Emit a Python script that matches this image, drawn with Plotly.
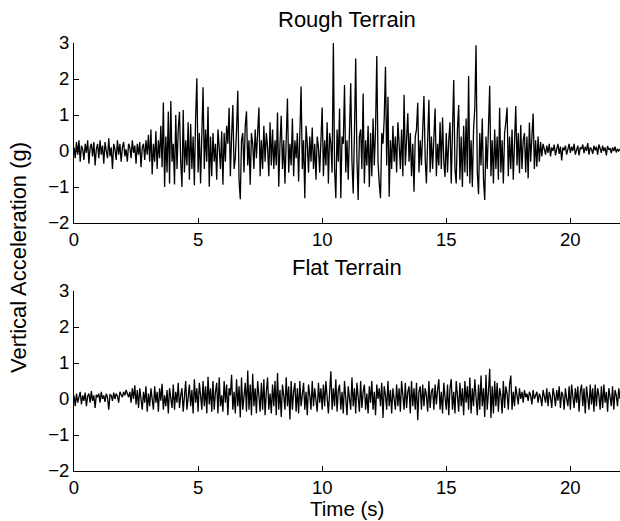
import numpy as np
import plotly.graph_objects as go

# sample interval (s) of the digitised signals
dt = 0.05

rough_g = [
    # 0-1 s
    0.1, -0.2, 0.25, -0.1, 0.3, -0.3, 0.15, 0.05, -0.25, 0.2, -0.05, 0.3, -0.35, 0.1, 0.2, -0.15, 0.25, -0.4, 0.05, 0.2,
    # 1-2 s
    -0.2, 0.3, -0.1, 0.15, -0.35, 0.25, 0.0, -0.2, 0.35, -0.15, 0.1, -0.5, 0.2, 0.05, -0.25, 0.3, -0.1, 0.2, -0.3, 0.1,
    # 2-3 s
    0.25, -0.15, 0.05, -0.3, 0.2, 0.1, -0.2, 0.3, -0.05, 0.15, -0.35, 0.2, -0.1, 0.25, -0.45, 0.1, 0.2, -0.25, 0.3, -0.1,
    # 3-4 s
    0.45, -0.3, 0.6, -0.65, 0.2, -0.3, 0.55, -0.5, 0.3, -0.2, 0.7, -0.45, 1.35, -1.0, 0.4, -0.6, 1.1, -0.9, 1.39, -0.3,
    # 4-5 s
    0.2, -0.93, 1.0, -0.5, 0.6, 1.09, -0.3, -1.0, 1.14, -0.6, 0.3, -0.4, 0.8, -0.8, 0.75, -0.5, 0.4, -0.95, 0.9, 2.02,
    # 5-6 s
    -0.6, 0.5, -0.9, 0.4, 1.77, -0.5, 0.6, -0.3, 1.23, -0.99, 0.4, -0.7, 0.5, -0.3, 0.2, -0.8, 0.6, 0.1, -0.5, 0.55,
    # 6-7 s
    -0.94, 0.5, -0.3, 0.7, 0.2, 1.2, -0.7, 0.4, 1.28, -0.5, -0.2, 0.6, 1.67, -0.8, -1.34, 0.3, 0.5, -0.6, 0.7, 1.1,
    # 7-8 s
    -0.4, 0.3, -0.94, 0.5, 0.2, -0.5, 0.6, -0.2, 0.4, 1.21, -0.7, 0.3, -0.5, 0.7, -0.3, 0.5, 0.1, -0.7, 0.8, -0.4,
    # 8-9 s
    0.6, -0.5, 0.3, -0.4, 1.07, -0.99, 0.2, 0.98, -0.5, 0.3, -0.91, 0.4, 1.46, -0.6, 0.2, -0.4, 0.9, -0.7, 0.3, -0.2,
    # 9-10 s
    0.5, -0.85, 0.6, 1.79, -0.5, 0.3, -1.31, 0.7, 0.2, -0.6, 0.4, -0.3, 0.65, -0.5, 0.2, -0.8, 0.4, 0.1, -0.6, 0.55,
    # 10-11 s
    1.21, -0.7, 0.3, -0.4, 0.8, -0.9, 0.5, 0.2, -0.6, 3.01, -0.5, -1.31, 0.6, -0.3, 1.18, -1.31, 0.4, 0.2, 1.83, -0.6,
    # 11-12 s
    0.3, -0.8, 0.4, 1.88, -0.3, -1.18, 0.5, 2.57, -0.2, -1.36, 0.4, 0.6, -0.5, 1.6, -0.9, 0.3, -0.4, 0.7, -1.0, 0.5,
    # 12-13 s
    -0.7, 0.9, -0.4, 0.6, 2.64, -0.3, -0.9, -1.31, 0.5, 0.2, 0.9, 2.34, -0.4, 1.51, -1.27, 0.3, -0.5, 0.7, -0.3, 0.4,
    # 13-14 s
    -0.6, 0.8, 0.2, -0.5, 0.6, -0.7, 1.56, -0.4, 0.3, 1.05, -0.3, 0.5, -0.7, 0.2, -1.13, 0.4, 0.6, 1.34, -0.6, 0.3,
    # 14-15 s
    -0.4, 0.7, 1.53, -0.2, -0.9, 0.3, 1.42, -0.6, 0.4, -0.5, 0.6, 1.18, -0.7, 0.2, -0.4, 0.8, -0.5, 0.93, -0.3, -0.72,
    # 15-16 s
    0.5, -0.6, 0.3, 0.8, -0.9, 0.4, 1.97, -0.5, -0.9, 0.6, 1.28, -0.8, 0.4, -1.0, 0.7, -0.6, 0.9, -0.7, 2.08, -0.9,
    # 16-17 s
    0.3, -1.0, 0.6, 1.2, 2.94, -0.6, -1.2, 0.5, -0.4, 0.9, -0.8, -1.36, 0.4, -0.5, 0.8, 1.81, -0.7, 0.3, -0.9, 0.6,
    # 17-18 s
    -0.5, 0.4, -0.8, 1.2, -0.6, 0.3, -0.9, 0.5, 0.8, 1.21, -0.7, 0.4, -0.5, 0.6, -0.8, 0.3, 1.25, -0.4, 0.5, -0.62,
    # 18-19 s
    0.72, -0.5, 0.3, 0.5, -0.6, 0.4, -0.76, 0.79, -0.3, 0.4, 1.04, -0.5, 0.3, -0.44, 0.4, -0.3, 0.25, -0.15, 0.2, 0.05,
    # 19-20 s
    -0.1, 0.15, -0.05, 0.2, -0.15, 0.1, 0.0, 0.18, -0.12, 0.05, 0.2, -0.08, 0.12, -0.26, 0.1, 0.02, 0.15, -0.1, 0.08, 0.2,
    # 20-21 s
    -0.05, 0.12, 0.0, 0.2, -0.1, 0.08, 0.15, -0.12, 0.1, 0.05, 0.18, -0.06, 0.12, 0.0, 0.22, -0.1, 0.1, 0.05, -0.08, 0.15,
    # 21-22 s
    0.02, 0.12, -0.1, 0.18, 0.05, -0.05, 0.15, 0.0, 0.1, -0.12, 0.14, 0.03, 0.08, -0.06, 0.1, 0.0, 0.12, -0.04, 0.06, 0.0, 0.05,
]

flat_g = [
    # 0-1 s
    0.1, -0.2, 0.15, -0.1, 0.05, 0.2, -0.15, 0.1, -0.05, 0.18, -0.2, 0.08, 0.15, -0.1, 0.22, -0.05, 0.1, -0.25, 0.12, 0.05,
    # 1-2 s
    0.15, -0.1, 0.2, 0.0, 0.1, -0.08, 0.15, 0.05, -0.3, 0.12, 0.1, -0.05, 0.18, 0.0, 0.15, 0.08, -0.1, 0.2, 0.12, 0.05,
    # 2-3 s
    0.2, 0.1, 0.25, 0.15, 0.05, 0.2, -0.1, 0.3, 0.0, 0.38, -0.15, 0.25, -0.25, 0.3, 0.05, -0.3, 0.2, -0.1, 0.35, -0.35,
    # 3-4 s
    0.15, -0.2, 0.3, 0.0, -0.3, 0.35, -0.1, 0.2, -0.35, 0.3, -0.05, 0.42, -0.3, 0.1, -0.2, 0.25, -0.4, 0.3, 0.05, -0.25,
    # 4-5 s
    0.4, -0.3, 0.2, -0.1, 0.45, -0.25, 0.1, 0.3, -0.35, 0.2, 0.5, -0.3, 0.0, 0.4, -0.2, 0.25, -0.4, 0.55, -0.1, 0.3,
    # 5-6 s
    -0.35, 0.45, 0.1, -0.3, 0.5, -0.2, 0.35, -0.4, 0.62, -0.15, 0.3, -0.35, 0.5, -0.3, 0.2, 0.45, -0.4, 0.6, -0.2, 0.1,
    # 6-7 s
    -0.35, 0.5, -0.1, 0.4, -0.45, 0.3, 0.1, 0.67, -0.3, 0.2, -0.4, 0.55, -0.2, 0.35, -0.51, 0.6, -0.3, 0.2, 0.45, -0.35,
    # 7-8 s
    0.79, -0.3, 0.4, -0.45, 0.7, -0.2, 0.3, -0.4, 0.5, 0.1, -0.35, 0.45, -0.3, 0.55, -0.45, 0.2, 0.6, -0.3, 0.15, -0.4,
    # 8-9 s
    0.4, -0.2, 0.5, -0.45, 0.72, -0.3, 0.25, -0.5, 0.4, 0.1, -0.3, 0.6, -0.2, 0.35, -0.57, 0.5, -0.3, 0.2, 0.45, -0.35,
    # 9-10 s
    0.3, -0.4, 0.5, -0.2, 0.1, 0.45, -0.3, 0.2, -0.45, 0.4, 0.1, -0.3, 0.5, -0.2, 0.3, 0.0, -0.35, 0.45, -0.1, 0.3,
    # 10-11 s
    -0.3, 0.4, -0.2, 0.5, 0.1, -0.4, 0.2, 0.77, -0.3, 0.3, -0.2, 0.55, -0.35, 0.25, 0.4, -0.3, 0.2, -0.4, 0.5, 0.0,
    # 11-12 s
    -0.45, 0.35, 0.1, -0.3, 0.6, -0.2, 0.3, -0.4, 0.45, 0.1, -0.35, 0.5, -0.25, 0.2, 0.4, -0.3, 0.15, -0.4, 0.35, -0.1,
    # 12-13 s
    0.5, -0.3, 0.2, -0.45, 0.4, 0.0, 0.3, -0.2, 0.45, -0.53, 0.35, 0.1, -0.3, 0.5, -0.2, 0.25, -0.4, 0.3, 0.05, -0.3,
    # 13-14 s
    0.4, -0.2, 0.3, -0.35, 0.5, 0.1, -0.3, 0.45, -0.25, 0.2, 0.35, -0.4, 0.5, -0.2, 0.3, -0.3, 0.45, -0.59, 0.2, 0.35,
    # 14-15 s
    -0.3, 0.4, -0.2, 0.3, 0.1, -0.35, 0.5, -0.25, 0.2, 0.3, -0.3, 0.4, -0.15, 0.25, 0.55, -0.3, 0.2, -0.4, 0.45, 0.05,
    # 15-16 s
    -0.3, 0.4, -0.45, 0.3, 0.55, -0.3, 0.2, -0.4, 0.5, 0.1, -0.35, 0.45, -0.2, 0.3, -0.45, 0.5, -0.1, 0.35, -0.3, 0.6,
    # 16-17 s
    -0.4, 0.3, -0.2, 0.55, 0.1, -0.45, 0.4, -0.3, 0.65, -0.2, 0.3, -0.5, 0.67, -0.3, 0.2, 0.84, -0.53, 0.35, -0.4, 0.5,
    # 17-18 s
    -0.2, 0.45, -0.35, 0.3, 0.1, -0.4, 0.5, -0.25, 0.35, 0.15, -0.3, 0.4, 0.65, -0.3, 0.2, -0.2, 0.35, 0.1, -0.15, 0.3,
    # 18-19 s
    0.0, 0.2, -0.1, 0.25, 0.05, 0.15, -0.05, 0.2, 0.1, -0.15, 0.25, 0.0, 0.1, 0.2, -0.1, 0.15, 0.05, -0.2, 0.25, 0.1,
    # 19-20 s
    -0.1, 0.3, -0.2, 0.2, 0.05, -0.25, 0.3, 0.1, -0.2, 0.25, -0.05, 0.35, -0.25, 0.2, 0.1, -0.3, 0.3, 0.0, -0.2, 0.35,
    # 20-21 s
    -0.3, 0.4, 0.1, -0.25, 0.3, -0.1, 0.35, -0.35, 0.2, 0.4, -0.2, 0.3, -0.4, 0.35, 0.05, -0.3, 0.4, -0.15, 0.3, -0.35,
    # 21-22 s
    0.4, -0.2, 0.3, 0.1, -0.3, 0.35, -0.25, 0.4, -0.1, 0.2, -0.35, 0.3, 0.05, -0.2, 0.35, -0.3, 0.25, 0.1, -0.2, 0.3, 0.0,
]

panel_titles = ["Rough Terrain", "Flat Terrain"]
x_tick_vals = [0, 5, 10, 15, 20]
y_tick_vals = [-2, -1, 0, 1, 2, 3]
x_title = "Time (s)"
y_title = "Vertical Acceleration (g)"

t_rough = np.arange(len(rough_g)) * dt
t_flat = np.arange(len(flat_g)) * dt

FONT = "Liberation Sans, Arial, Helvetica, sans-serif"

W, H = 620, 521
ML, MR, MT, MB = 74, 0, 43, 50
ph = H - MT - MB  # 428

def py(pix):
    return (H - MB - pix) / ph

fig = go.Figure()
fig.add_trace(go.Scatter(x=t_rough, y=rough_g, mode="lines",
                         line=dict(color="black", width=1.3),
                         xaxis="x", yaxis="y", showlegend=False, hoverinfo="skip"))
fig.add_trace(go.Scatter(x=t_flat, y=flat_g, mode="lines",
                         line=dict(color="black", width=1.3),
                         xaxis="x2", yaxis="y2", showlegend=False, hoverinfo="skip"))

tick_font = dict(family=FONT, size=18.5, color="black")
xcommon = dict(range=[0, 22], tickvals=x_tick_vals, ticks="inside", ticklen=5,
               tickcolor="black", showline=True, linecolor="black", linewidth=1,
               showgrid=False, zeroline=False, automargin=False, tickfont=tick_font)
ycommon = dict(range=[-2, 3], tickvals=y_tick_vals, ticks="inside", ticklen=5,
               tickcolor="black", showline=True, linecolor="black", linewidth=1,
               showgrid=False, zeroline=False, automargin=False, tickfont=tick_font)

fig.update_layout(
    width=W, height=H,
    margin=dict(l=ML, r=MR, t=MT, b=MB, pad=0),
    paper_bgcolor="white", plot_bgcolor="white",
    font=dict(family=FONT, color="black"),
    xaxis=dict(domain=[0, 1], anchor="y", **xcommon),
    yaxis=dict(domain=[py(223), 1], anchor="x", **ycommon),
    xaxis2=dict(domain=[0, 1], anchor="y2", **xcommon),
    yaxis2=dict(domain=[0, py(291)], anchor="x2", **ycommon),
)

fig.add_annotation(text=panel_titles[0], xref="paper", yref="paper", x=0.5, y=py(20),
                   showarrow=False, font=dict(family=FONT, size=22, color="black"),
                   xanchor="center", yanchor="middle")
fig.add_annotation(text=panel_titles[1], xref="paper", yref="paper", x=0.5, y=py(267),
                   showarrow=False, font=dict(family=FONT, size=22, color="black"),
                   xanchor="center", yanchor="middle")
fig.add_annotation(text=x_title, xref="paper", yref="paper", x=0.5, y=py(521),
                   showarrow=False, font=dict(family=FONT, size=20.5, color="black"),
                   xanchor="center", yanchor="bottom", borderpad=0)
fig.add_annotation(text=y_title, xref="paper", yref="paper", x=(18 - ML) / (W - ML - MR),
                   y=py(258), textangle=-90,
                   showarrow=False, font=dict(family=FONT, size=22, color="black"),
                   xanchor="center", yanchor="middle")

# remove the default page margin so the figure sits at the window's top-left corner
fig.write_html("out.html", config={"displayModeBar": False},
               post_script="document.body.style.margin='0';document.body.style.overflow='hidden';")
